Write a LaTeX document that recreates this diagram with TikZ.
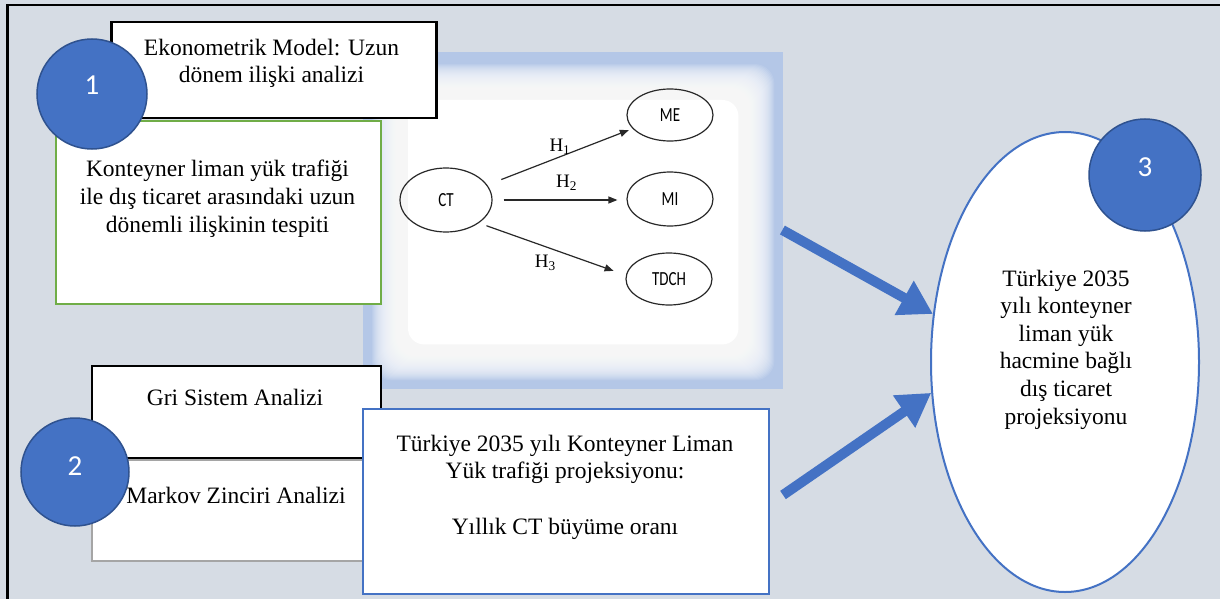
\documentclass[tikz,border=0pt]{standalone}
\usepackage{graphicx}
\usepackage{fontspec}
\setmainfont{Liberation Serif}
\newfontfamily\calfont{Carlito}
\usetikzlibrary{arrows.meta,shapes.geometric,calc}
\definecolor{bgc}{RGB}{214,220,228}
\definecolor{glowblue}{RGB}{180,199,231}
\definecolor{accent}{RGB}{68,114,196}
\definecolor{accentdark}{RGB}{47,82,143}
\definecolor{grn}{RGB}{112,173,71}
\definecolor{gry}{RGB}{165,165,165}
\definecolor{ink}{RGB}{40,40,40}
\tikzset{
 box/.style={draw, fill=white, anchor=north west, inner sep=0pt, line width=2pt},
 txt/.style={font=\fontsize{23.5}{27.6}\selectfont, align=center, inner sep=0pt, anchor=base},
 num/.style={circle, fill=accent, draw=accentdark, line width=1.5pt, minimum size=110pt, inner sep=0pt, text=white, font=\calfont\fontsize{29}{29}\selectfont},
 gnode/.style={ellipse, draw=ink, line width=1.2pt, inner sep=0pt, font=\calfont\fontsize{20}{20}\selectfont},
 garr/.style={draw=ink, line width=1.2pt, -{Triangle[length=9pt,width=7pt]}},
 hlab/.style={font=\fontsize{19}{19}\selectfont, inner sep=0pt},
 bigarr/.style={draw=accent, line width=10pt, -{Triangle[length=33pt,width=37pt]}},
}
\begin{document}
\begin{tikzpicture}[x=1pt,y=-1pt]
\useasboundingbox (0,0) rectangle (1220,599);
\fill[bgc] (0,0) rectangle (1220,599);
\draw[line width=2.5pt] (7.3,601) |- (1222,5);

% picture frame with glow
\node[fill=glowblue, anchor=north west, minimum width=420pt, minimum height=337pt, inner sep=0pt] (frame) at (363,52) {};
\foreach \d in {9,...,44}
  \fill[white, opacity=0.1, rounded corners=20pt] ($(frame.north west)+(\d,\d+3)$) rectangle ($(frame.south east)+(-\d,-\d)$);
\fill[white, rounded corners=16pt] ($(frame.north west)+(45,48)$) rectangle ($(frame.south east)+(-45,-45)$);

% model graph
\node[gnode, minimum width=92pt, minimum height=64pt] (ct) at (446,200) {\scalebox{0.75}[1]{CT}};
\node[gnode, minimum width=86pt, minimum height=52pt] (me) at (670,115) {\scalebox{0.75}[1]{ME}};
\node[gnode, minimum width=86pt, minimum height=54pt] (mi) at (670,199) {\scalebox{0.75}[1]{MI}};
\node[gnode, minimum width=86pt, minimum height=52pt] (tdch) at (669,279) {\scalebox{0.75}[1]{TDCH}};
\draw[garr, shorten <=15pt, shorten >=4pt] (ct.20) -- node[hlab, pos=0.5, yshift=10pt] (h1) {H\textsubscript{1}} (me.200);
\draw[garr, shorten <=11pt, shorten >=9pt] (ct.east) -- node[hlab, pos=0.5, xshift=7pt, yshift=17pt] (h2) {H\textsubscript{2}} (ct.east -| mi.west);
\draw[garr, shorten <=8pt, shorten >=13pt] (ct.-35) -- node[hlab, pos=0.5, xshift=-7pt, yshift=-13.5pt] (h3) {H\textsubscript{3}} (tdch.175);

% left upper group
\node[box, draw=grn, minimum width=325pt, minimum height=183pt] (goal) at (55,120) {};
\node[box, line width=2.5pt, minimum width=325pt, minimum height=96pt] (eko) at (110,21) {};
\node[num, text depth=17pt] (n1) at (92,94) {1};
\node[txt] (ekot) at (271.5,83) {Ekonometrik Model: Uzun\\dönem ilişki analizi};
\node[txt] (goalt) at (217.5,232) {Konteyner liman yük trafiği\\ile dış ticaret arasındaki uzun\\dönemli ilişkinin tespiti};

% left lower group
\node[box, draw=gry, minimum width=289pt, minimum height=101pt] (markov) at (91,459) {};
\node[box, minimum width=289pt, minimum height=92pt] (gri) at (91,365) {};
\node[num, minimum size=108pt, text depth=12pt] (n2) at (75,472) {2};
\node[txt] (grit) at (235,405) {Gri Sistem Analizi};
\node[txt] (markovt) at (236,503) {Markov Zinciri Analizi};

% projection box
\node[box, draw=accent, minimum width=406pt, minimum height=185pt] (ctbox) at (362,408) {};
\node[txt] (ctt) at (565,534) {Türkiye 2035 yılı Konteyner Liman\\Yük trafiği projeksiyonu:\\[27.6pt]Yıllık CT büyüme oranı};

% result ellipse
\node[ellipse, draw=accent, fill=white, line width=2pt, minimum width=268pt, minimum height=460pt, inner sep=0pt] (proj) at (1065,362) {};
\node[num, minimum size=112pt, text depth=15pt] (n3) at (1145,175) {3};
\node[txt] (projt) at (1066,424) {Türkiye 2035\\yılı konteyner\\liman yük\\hacmine bağlı\\dış ticaret\\projeksiyonu};

% block arrows
\draw[bigarr] ($(frame.north east)+(-1,178)$) -- (proj.160);
\draw[bigarr] ($(ctbox.east)+(13,-6.5)$) -- (proj.193);
\end{tikzpicture}
\end{document}
